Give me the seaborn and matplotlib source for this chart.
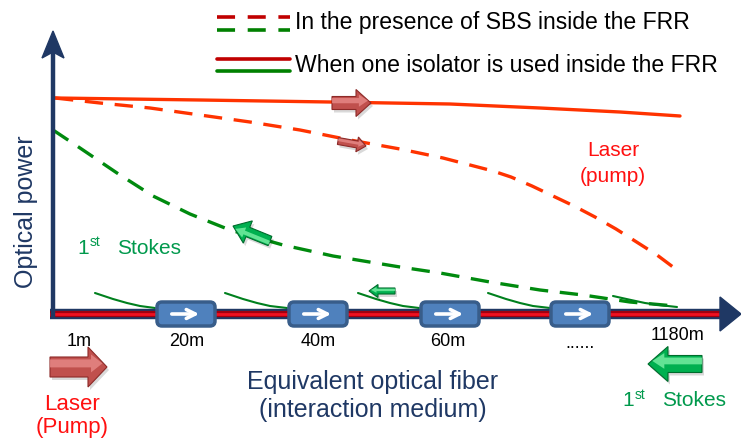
import numpy as np
import pandas as pd
import matplotlib.pyplot as plt
import seaborn as sns
from matplotlib.patches import FancyArrow, FancyBboxPatch, Polygon

# ---- data (pixel-like coordinates, y grows downwards) ----
pump_iso_x = [55, 200, 330, 450, 540, 620, 680]
pump_iso_y = [98, 100, 102, 104, 108, 112, 116]

pump_sbs_x = [55, 100, 150, 200, 250, 300, 350, 400, 443, 470, 493, 511, 532, 553, 574, 595, 616, 635, 657, 677]
pump_sbs_y = [98, 103, 108, 115, 122, 130, 140, 149, 158, 165, 171, 177, 186, 196, 206, 217, 229, 241, 255, 270]

stokes_sbs_x = [53, 80, 117, 153, 190, 230, 283, 333, 400, 440, 490, 540, 583, 630, 675]
stokes_sbs_y = [130, 148, 173, 196, 214, 230, 245, 256, 267, 273, 282, 290, 295, 302, 306]

# stokes with isolators: one short decaying curve per fibre section
stokes_iso_x = [
    [95, 113, 127, 140, 155],
    [225, 243, 257, 270, 287],
    [358, 376, 390, 403, 419],
    [488, 506, 520, 533, 550],
    [613, 631, 645, 659, 677],
]
stokes_iso_y = [
    [293, 299, 303, 306, 308],
    [293, 299, 303, 306, 308],
    [293, 299, 303, 306, 308],
    [293, 299, 303, 306, 308],
    [296, 300, 303, 305, 307],
]

isolator_x = [186, 318, 450, 580]
tick_labels = ["1m", "20m", "40m", "60m", "......", "1180m"]
tick_x = [79, 187, 318, 448, 580, 678]
tick_y = [342, 342, 342, 342, 343, 335]

NAVY = "#1F3864"
RED_LINE = "#FF3300"
GREEN_LINE = "#008A0E"
GREEN_TXT = "#00994C"


def block_arrow(ax, x, y, dx, dy, width, head_w, head_len, face, light, edge):
    # soft shadow
    ax.add_patch(FancyArrow(x + 2, y + 3, dx, dy, width=width, head_width=head_w,
                            head_length=head_len, length_includes_head=True,
                            color="black", alpha=0.15, lw=0, zorder=6))
    ax.add_patch(FancyArrow(x, y, dx, dy, width=width, head_width=head_w,
                            head_length=head_len, length_includes_head=True,
                            facecolor=face, edgecolor=edge, lw=0.8, zorder=7))
    # lighter top part for the 3D look
    n = np.array([dy, -dx]) / np.hypot(dx, dy)
    off = n * width * 0.18
    ax.add_patch(FancyArrow(x + off[0], y - abs(off[1]) if dy == 0 else y + off[1],
                            dx * 0.92, dy * 0.92, width=width * 0.4,
                            head_width=head_w * 0.45, head_length=head_len * 0.6,
                            length_includes_head=True, facecolor=light, lw=0,
                            alpha=0.8, zorder=8))


sns.set_theme(style="white")
plt.rcParams["font.family"] = ["Liberation Sans", "DejaVu Sans"]

fig = plt.figure(figsize=(7.41, 4.41), dpi=100)
ax = fig.add_axes([0, 0, 1, 1])
ax.set_xlim(0, 741)
ax.set_ylim(441, 0)
ax.axis("off")

# ---- curves ----
sns.lineplot(x=pump_iso_x, y=pump_iso_y, ax=ax, color=RED_LINE, lw=2.4,
             estimator=None, sort=False, zorder=3)
sns.lineplot(x=pump_sbs_x, y=pump_sbs_y, ax=ax, color=RED_LINE, lw=2.4,
             estimator=None, sort=False, zorder=3)
ax.lines[-1].set_dashes([5.5, 3.5])
sns.lineplot(x=stokes_sbs_x, y=stokes_sbs_y, ax=ax, color=GREEN_LINE, lw=2.4,
             estimator=None, sort=False, zorder=3)
ax.lines[-1].set_dashes([5.5, 3.5])
for sx, sy in zip(stokes_iso_x, stokes_iso_y):
    sns.lineplot(x=sx, y=sy, ax=ax, color="#00801E", lw=1.5,
                 estimator=None, sort=False, zorder=3)

# ---- axes (fibre bar + optical power axis) ----
ax.plot([50, 722], [314, 314], color=NAVY, lw=7.5, solid_capstyle="butt", zorder=4)
ax.plot([50, 722], [314, 314], color="#A00010", lw=4.5, solid_capstyle="butt", zorder=4)
ax.plot([50, 722], [314, 314], color="#F01020", lw=2.0, solid_capstyle="butt", zorder=4)
ax.add_patch(Polygon([[720, 297], [741, 314], [720, 331]], closed=True,
                     facecolor=NAVY, edgecolor=NAVY, zorder=4))
ax.plot([53, 53], [318, 50], color=NAVY, lw=3.2, solid_capstyle="butt", zorder=4)
ax.add_patch(Polygon([[42, 58], [53, 31], [64, 58], [53, 52]], closed=True,
                     facecolor=NAVY, edgecolor=NAVY, lw=1, zorder=4))

# ---- isolators ----
for cx in isolator_x:
    ax.add_patch(FancyBboxPatch((cx - 29, 302), 58, 24,
                                boxstyle="round,pad=0,rounding_size=5",
                                facecolor="#4F81BD", edgecolor="#385D8A", lw=2.5, zorder=5))
    ax.annotate("", xy=(cx + 16, 314), xytext=(cx - 17, 314),
                arrowprops=dict(arrowstyle="->", color="white", lw=2.6,
                                mutation_scale=16), zorder=6)

# ---- block arrows ----
block_arrow(ax, 332, 103, 39, 0, 13, 27, 15, "#C0504D", "#E88A88", "#8C2A28")
block_arrow(ax, 338, 141, 28, 5, 7, 15, 9, "#C0504D", "#E88A88", "#8C2A28")
block_arrow(ax, 270, 241, -37, -15, 10, 24, 16, "#00B050", "#7CF0A6", "#006B2C")
block_arrow(ax, 395, 291, -26, 0, 6, 13, 9, "#00B050", "#7CF0A6", "#006B2C")
block_arrow(ax, 50, 367, 57, 0, 20, 40, 19, "#C0504D", "#E88A88", "#8C2A28")
block_arrow(ax, 702, 364, -54, 0, 17, 35, 20, "#00B050", "#7CF0A6", "#006B2C")

# ---- tick labels ----
for lab, tx, ty in zip(tick_labels, tick_x, tick_y):
    ax.text(tx, ty, lab, fontsize=13, ha="center", va="center", color="black")

# ---- axis titles ----
ax.text(373, 382, "Equivalent optical fiber", fontsize=18, color=NAVY,
        ha="center", va="center")
ax.text(373, 410, "(interaction medium)", fontsize=18, color=NAVY,
        ha="center", va="center")
ax.text(26, 212, "Optical power", fontsize=18, color=NAVY, rotation=90,
        ha="center", va="center")

# ---- annotations ----
ax.text(613, 150, "Laser", fontsize=15, color="#FF1010", ha="center", va="center")
ax.text(613, 177, "(pump)", fontsize=15, color="#FF1010", ha="center", va="center")
ax.text(72, 405, "Laser", fontsize=16, color="#FF1010", ha="center", va="center")
ax.text(72, 428, "(Pump)", fontsize=16, color="#FF1010", ha="center", va="center")

for x1, y1 in [(83, 248), (628, 401)]:
    ax.text(x1, y1, "1", fontsize=15, color=GREEN_TXT, ha="center", va="center")
    ax.text(x1 + 7, y1 - 6, "st", fontsize=10, color=GREEN_TXT, ha="left", va="center")
    ax.text(x1 + 34, y1, "Stokes", fontsize=15, color=GREEN_TXT, ha="left", va="center")

# ---- legend ----
ax.plot([217, 290], [17, 17], color="#C00000", lw=2.6, dashes=[5, 3.5])
ax.plot([217, 290], [30, 30], color="#008000", lw=2.6, dashes=[5, 3.5])
ax.plot([217, 290], [59, 59], color="#C00000", lw=2.6)
ax.plot([217, 290], [71, 71], color="#008000", lw=2.6)
ax.text(295, 23, "In the presence of SBS inside the FRR", fontsize=16.6,
        color="black", ha="left", va="center")
ax.text(295, 66, "When one isolator is used inside the FRR", fontsize=16.6,
        color="black", ha="left", va="center")

fig.savefig("out.png", dpi=100)
